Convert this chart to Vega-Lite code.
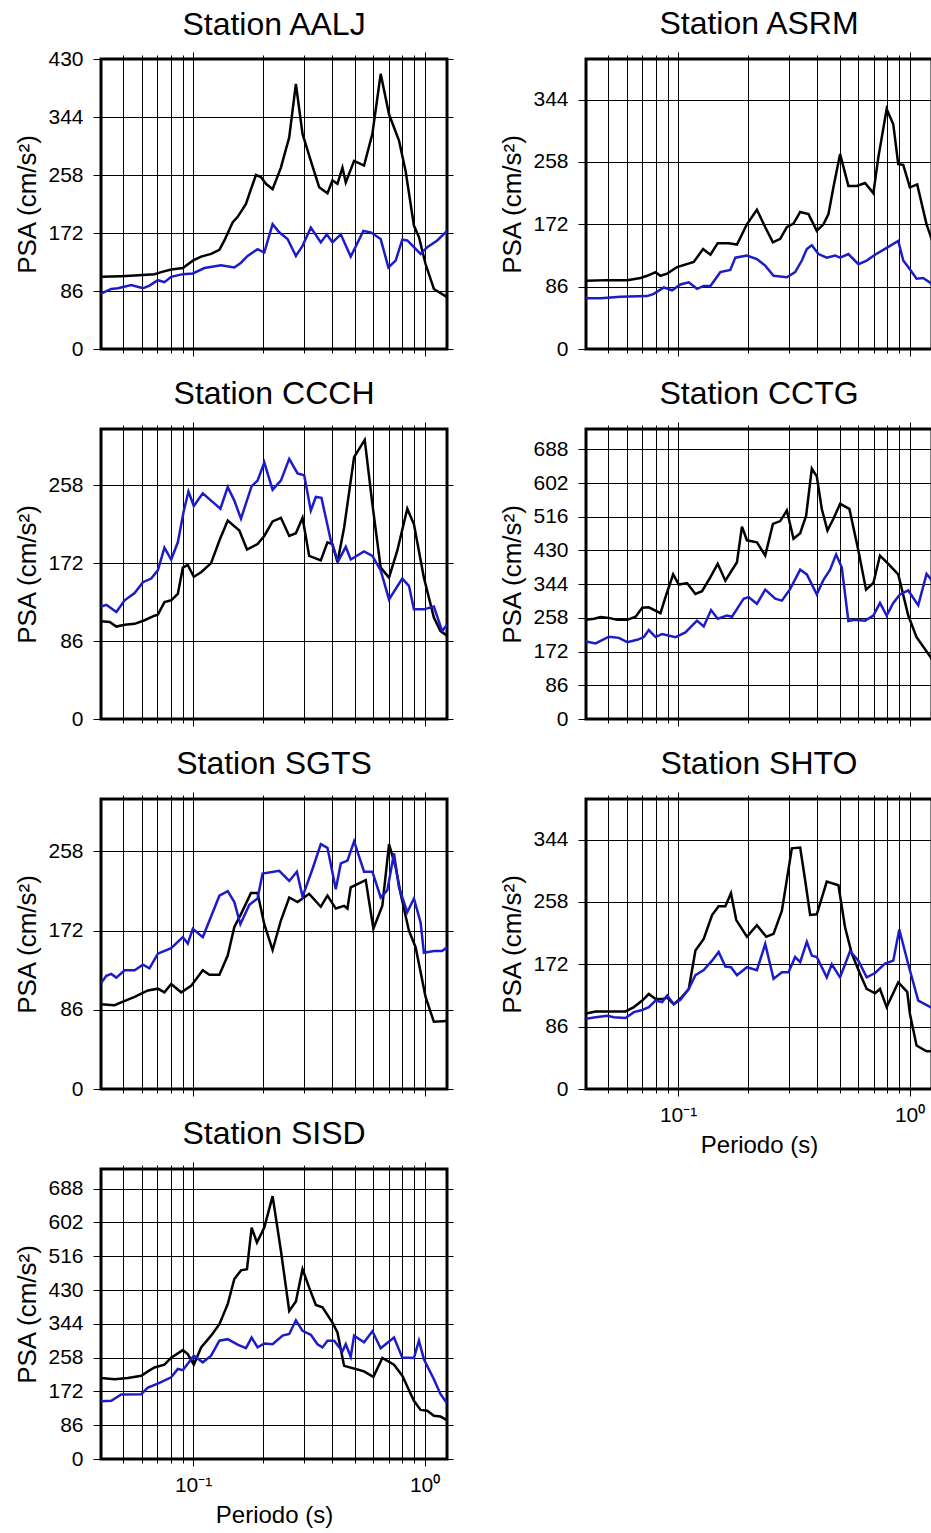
{
"$schema": "https://vega.github.io/schema/vega-lite/v6.json",
"padding": {"left": 12, "top": 6, "right": -8, "bottom": 0},
"columns": 2,
"spacing": {"row": 80, "column": 139},
"bounds": "flush",
"data": {"name": "psa"},
"datasets": {"psa": [
{"st":"AALJ","s":"1","t":0.04,"v":107},{"st":"AALJ","s":"1","t":0.049,"v":108},{"st":"AALJ","s":"1","t":0.0559,"v":109},{"st":"AALJ","s":"1","t":0.0681,"v":111},{"st":"AALJ","s":"1","t":0.0728,"v":114},{"st":"AALJ","s":"1","t":0.0804,"v":118},{"st":"AALJ","s":"1","t":0.0903,"v":120},{"st":"AALJ","s":"1","t":0.0997,"v":131},{"st":"AALJ","s":"1","t":0.1083,"v":137},{"st":"AALJ","s":"1","t":0.1196,"v":141},{"st":"AALJ","s":"1","t":0.1299,"v":147},{"st":"AALJ","s":"1","t":0.1365,"v":161},{"st":"AALJ","s":"1","t":0.1483,"v":188},{"st":"AALJ","s":"1","t":0.1558,"v":196},{"st":"AALJ","s":"1","t":0.1692,"v":215},{"st":"AALJ","s":"1","t":0.1778,"v":237},{"st":"AALJ","s":"1","t":0.1869,"v":258},{"st":"AALJ","s":"1","t":0.1964,"v":255},{"st":"AALJ","s":"1","t":0.2064,"v":245},{"st":"AALJ","s":"1","t":0.2205,"v":237},{"st":"AALJ","s":"1","t":0.2395,"v":269},{"st":"AALJ","s":"1","t":0.2602,"v":314},{"st":"AALJ","s":"1","t":0.278,"v":393},{"st":"AALJ","s":"1","t":0.297,"v":319},{"st":"AALJ","s":"1","t":0.3226,"v":279},{"st":"AALJ","s":"1","t":0.3504,"v":240},{"st":"AALJ","s":"1","t":0.3806,"v":231},{"st":"AALJ","s":"1","t":0.4,"v":250},{"st":"AALJ","s":"1","t":0.4204,"v":245},{"st":"AALJ","s":"1","t":0.4418,"v":269},{"st":"AALJ","s":"1","t":0.4566,"v":247},{"st":"AALJ","s":"1","t":0.496,"v":279},{"st":"AALJ","s":"1","t":0.5477,"v":272},{"st":"AALJ","s":"1","t":0.595,"v":319},{"st":"AALJ","s":"1","t":0.6463,"v":408},{"st":"AALJ","s":"1","t":0.7021,"v":348},{"st":"AALJ","s":"1","t":0.7753,"v":309},{"st":"AALJ","s":"1","t":0.8281,"v":264},{"st":"AALJ","s":"1","t":0.8995,"v":183},{"st":"AALJ","s":"1","t":0.9454,"v":166},{"st":"AALJ","s":"1","t":1.01,"v":126},{"st":"AALJ","s":"1","t":1.097,"v":89},{"st":"AALJ","s":"1","t":1.25,"v":77},
{"st":"AALJ","s":"2","t":0.04,"v":82},{"st":"AALJ","s":"2","t":0.0443,"v":89},{"st":"AALJ","s":"2","t":0.0473,"v":90},{"st":"AALJ","s":"2","t":0.054,"v":95},{"st":"AALJ","s":"2","t":0.0607,"v":90},{"st":"AALJ","s":"2","t":0.0648,"v":94},{"st":"AALJ","s":"2","t":0.0704,"v":102},{"st":"AALJ","s":"2","t":0.0752,"v":99},{"st":"AALJ","s":"2","t":0.0804,"v":107},{"st":"AALJ","s":"2","t":0.0903,"v":111},{"st":"AALJ","s":"2","t":0.0997,"v":112},{"st":"AALJ","s":"2","t":0.1119,"v":120},{"st":"AALJ","s":"2","t":0.132,"v":124},{"st":"AALJ","s":"2","t":0.1507,"v":121},{"st":"AALJ","s":"2","t":0.161,"v":128},{"st":"AALJ","s":"2","t":0.172,"v":138},{"st":"AALJ","s":"2","t":0.1899,"v":148},{"st":"AALJ","s":"2","t":0.203,"v":143},{"st":"AALJ","s":"2","t":0.2205,"v":185},{"st":"AALJ","s":"2","t":0.2356,"v":173},{"st":"AALJ","s":"2","t":0.2559,"v":163},{"st":"AALJ","s":"2","t":0.278,"v":138},{"st":"AALJ","s":"2","t":0.297,"v":153},{"st":"AALJ","s":"2","t":0.3226,"v":180},{"st":"AALJ","s":"2","t":0.3562,"v":158},{"st":"AALJ","s":"2","t":0.3781,"v":170},{"st":"AALJ","s":"2","t":0.4,"v":158},{"st":"AALJ","s":"2","t":0.4345,"v":170},{"st":"AALJ","s":"2","t":0.4797,"v":137},{"st":"AALJ","s":"2","t":0.5441,"v":175},{"st":"AALJ","s":"2","t":0.5852,"v":173},{"st":"AALJ","s":"2","t":0.6463,"v":163},{"st":"AALJ","s":"2","t":0.6975,"v":121},{"st":"AALJ","s":"2","t":0.7499,"v":131},{"st":"AALJ","s":"2","t":0.8012,"v":162},{"st":"AALJ","s":"2","t":0.8421,"v":161},{"st":"AALJ","s":"2","t":0.9612,"v":141},{"st":"AALJ","s":"2","t":1.027,"v":151},{"st":"AALJ","s":"2","t":1.134,"v":161},{"st":"AALJ","s":"2","t":1.25,"v":175},
{"st":"ASRM","s":"1","t":0.04,"v":94},{"st":"ASRM","s":"1","t":0.0494,"v":95},{"st":"ASRM","s":"1","t":0.0603,"v":95},{"st":"ASRM","s":"1","t":0.0688,"v":98},{"st":"ASRM","s":"1","t":0.0735,"v":101},{"st":"ASRM","s":"1","t":0.0799,"v":106},{"st":"ASRM","s":"1","t":0.0839,"v":101},{"st":"ASRM","s":"1","t":0.0897,"v":104},{"st":"ASRM","s":"1","t":0.099,"v":113},{"st":"ASRM","s":"1","t":0.1168,"v":120},{"st":"ASRM","s":"1","t":0.1282,"v":138},{"st":"ASRM","s":"1","t":0.1379,"v":130},{"st":"ASRM","s":"1","t":0.1483,"v":146},{"st":"ASRM","s":"1","t":0.1653,"v":146},{"st":"ASRM","s":"1","t":0.1796,"v":144},{"st":"ASRM","s":"1","t":0.1983,"v":172},{"st":"ASRM","s":"1","t":0.219,"v":192},{"st":"ASRM","s":"1","t":0.2379,"v":168},{"st":"ASRM","s":"1","t":0.2568,"v":147},{"st":"ASRM","s":"1","t":0.2761,"v":152},{"st":"ASRM","s":"1","t":0.295,"v":168},{"st":"ASRM","s":"1","t":0.3152,"v":173},{"st":"ASRM","s":"1","t":0.3368,"v":189},{"st":"ASRM","s":"1","t":0.3658,"v":186},{"st":"ASRM","s":"1","t":0.3973,"v":163},{"st":"ASRM","s":"1","t":0.4246,"v":172},{"st":"ASRM","s":"1","t":0.4462,"v":186},{"st":"ASRM","s":"1","t":0.4688,"v":223},{"st":"ASRM","s":"1","t":0.501,"v":269},{"st":"ASRM","s":"1","t":0.5441,"v":225},{"st":"ASRM","s":"1","t":0.5911,"v":225},{"st":"ASRM","s":"1","t":0.6421,"v":229},{"st":"ASRM","s":"1","t":0.6975,"v":215},{"st":"ASRM","s":"1","t":0.7326,"v":264},{"st":"ASRM","s":"1","t":0.7962,"v":331},{"st":"ASRM","s":"1","t":0.8504,"v":310},{"st":"ASRM","s":"1","t":0.8935,"v":255},{"st":"ASRM","s":"1","t":0.9391,"v":254},{"st":"ASRM","s":"1","t":1.003,"v":223},{"st":"ASRM","s":"1","t":1.079,"v":227},{"st":"ASRM","s":"1","t":1.184,"v":172},{"st":"ASRM","s":"1","t":1.232,"v":156},{"st":"ASRM","s":"1","t":1.25,"v":150},
{"st":"ASRM","s":"2","t":0.04,"v":70},{"st":"ASRM","s":"2","t":0.0463,"v":70},{"st":"ASRM","s":"2","t":0.0564,"v":72},{"st":"ASRM","s":"2","t":0.0735,"v":73},{"st":"ASRM","s":"2","t":0.0785,"v":76},{"st":"ASRM","s":"2","t":0.0868,"v":85},{"st":"ASRM","s":"2","t":0.0942,"v":81},{"st":"ASRM","s":"2","t":0.1023,"v":89},{"st":"ASRM","s":"2","t":0.1112,"v":92},{"st":"ASRM","s":"2","t":0.1207,"v":83},{"st":"ASRM","s":"2","t":0.129,"v":87},{"st":"ASRM","s":"2","t":0.1379,"v":87},{"st":"ASRM","s":"2","t":0.1522,"v":106},{"st":"ASRM","s":"2","t":0.1681,"v":109},{"st":"ASRM","s":"2","t":0.1767,"v":126},{"st":"ASRM","s":"2","t":0.1983,"v":129},{"st":"ASRM","s":"2","t":0.219,"v":124},{"st":"ASRM","s":"2","t":0.2379,"v":115},{"st":"ASRM","s":"2","t":0.2585,"v":101},{"st":"ASRM","s":"2","t":0.295,"v":99},{"st":"ASRM","s":"2","t":0.3204,"v":106},{"st":"ASRM","s":"2","t":0.3424,"v":122},{"st":"ASRM","s":"2","t":0.3598,"v":138},{"st":"ASRM","s":"2","t":0.3781,"v":143},{"st":"ASRM","s":"2","t":0.404,"v":131},{"st":"ASRM","s":"2","t":0.4388,"v":126},{"st":"ASRM","s":"2","t":0.4767,"v":129},{"st":"ASRM","s":"2","t":0.501,"v":126},{"st":"ASRM","s":"2","t":0.5441,"v":131},{"st":"ASRM","s":"2","t":0.6009,"v":117},{"st":"ASRM","s":"2","t":0.6528,"v":122},{"st":"ASRM","s":"2","t":0.7092,"v":130},{"st":"ASRM","s":"2","t":0.783,"v":138},{"st":"ASRM","s":"2","t":0.8935,"v":149},{"st":"ASRM","s":"2","t":0.9391,"v":122},{"st":"ASRM","s":"2","t":1.003,"v":110},{"st":"ASRM","s":"2","t":1.072,"v":97},{"st":"ASRM","s":"2","t":1.145,"v":98},{"st":"ASRM","s":"2","t":1.232,"v":91},{"st":"ASRM","s":"2","t":1.25,"v":89},
{"st":"CCCH","s":"1","t":0.04,"v":108},{"st":"CCCH","s":"1","t":0.0436,"v":107},{"st":"CCCH","s":"1","t":0.0466,"v":102},{"st":"CCCH","s":"1","t":0.0506,"v":104},{"st":"CCCH","s":"1","t":0.0559,"v":105},{"st":"CCCH","s":"1","t":0.0617,"v":109},{"st":"CCCH","s":"1","t":0.0681,"v":114},{"st":"CCCH","s":"1","t":0.0704,"v":115},{"st":"CCCH","s":"1","t":0.0752,"v":129},{"st":"CCCH","s":"1","t":0.0804,"v":131},{"st":"CCCH","s":"1","t":0.0859,"v":138},{"st":"CCCH","s":"1","t":0.0903,"v":167},{"st":"CCCH","s":"1","t":0.0948,"v":170},{"st":"CCCH","s":"1","t":0.1007,"v":157},{"st":"CCCH","s":"1","t":0.1083,"v":162},{"st":"CCCH","s":"1","t":0.1196,"v":172},{"st":"CCCH","s":"1","t":0.1299,"v":197},{"st":"CCCH","s":"1","t":0.1411,"v":219},{"st":"CCCH","s":"1","t":0.1584,"v":208},{"st":"CCCH","s":"1","t":0.1709,"v":187},{"st":"CCCH","s":"1","t":0.1899,"v":193},{"st":"CCCH","s":"1","t":0.203,"v":202},{"st":"CCCH","s":"1","t":0.2205,"v":218},{"st":"CCCH","s":"1","t":0.2395,"v":222},{"st":"CCCH","s":"1","t":0.2602,"v":202},{"st":"CCCH","s":"1","t":0.278,"v":205},{"st":"CCCH","s":"1","t":0.297,"v":222},{"st":"CCCH","s":"1","t":0.3173,"v":180},{"st":"CCCH","s":"1","t":0.3562,"v":175},{"st":"CCCH","s":"1","t":0.3806,"v":195},{"st":"CCCH","s":"1","t":0.4,"v":193},{"st":"CCCH","s":"1","t":0.4204,"v":173},{"st":"CCCH","s":"1","t":0.4491,"v":211},{"st":"CCCH","s":"1","t":0.496,"v":289},{"st":"CCCH","s":"1","t":0.5514,"v":308},{"st":"CCCH","s":"1","t":0.595,"v":237},{"st":"CCCH","s":"1","t":0.6463,"v":167},{"st":"CCCH","s":"1","t":0.7021,"v":156},{"st":"CCCH","s":"1","t":0.7626,"v":186},{"st":"CCCH","s":"1","t":0.8421,"v":232},{"st":"CCCH","s":"1","t":0.8995,"v":215},{"st":"CCCH","s":"1","t":0.9934,"v":156},{"st":"CCCH","s":"1","t":1.097,"v":112},{"st":"CCCH","s":"1","t":1.172,"v":97},{"st":"CCCH","s":"1","t":1.25,"v":92},
{"st":"CCCH","s":"2","t":0.04,"v":124},{"st":"CCCH","s":"2","t":0.0422,"v":126},{"st":"CCCH","s":"2","t":0.0466,"v":118},{"st":"CCCH","s":"2","t":0.0506,"v":131},{"st":"CCCH","s":"2","t":0.0559,"v":139},{"st":"CCCH","s":"2","t":0.0607,"v":151},{"st":"CCCH","s":"2","t":0.0659,"v":155},{"st":"CCCH","s":"2","t":0.0704,"v":164},{"st":"CCCH","s":"2","t":0.0752,"v":189},{"st":"CCCH","s":"2","t":0.0804,"v":176},{"st":"CCCH","s":"2","t":0.0859,"v":195},{"st":"CCCH","s":"2","t":0.0912,"v":230},{"st":"CCCH","s":"2","t":0.0955,"v":251},{"st":"CCCH","s":"2","t":0.1007,"v":235},{"st":"CCCH","s":"2","t":0.1101,"v":249},{"st":"CCCH","s":"2","t":0.1196,"v":241},{"st":"CCCH","s":"2","t":0.1312,"v":232},{"st":"CCCH","s":"2","t":0.1411,"v":256},{"st":"CCCH","s":"2","t":0.1507,"v":241},{"st":"CCCH","s":"2","t":0.161,"v":221},{"st":"CCCH","s":"2","t":0.179,"v":257},{"st":"CCCH","s":"2","t":0.1899,"v":263},{"st":"CCCH","s":"2","t":0.203,"v":283},{"st":"CCCH","s":"2","t":0.2205,"v":253},{"st":"CCCH","s":"2","t":0.2395,"v":263},{"st":"CCCH","s":"2","t":0.2602,"v":287},{"st":"CCCH","s":"2","t":0.2826,"v":271},{"st":"CCCH","s":"2","t":0.3019,"v":269},{"st":"CCCH","s":"2","t":0.3226,"v":230},{"st":"CCCH","s":"2","t":0.339,"v":245},{"st":"CCCH","s":"2","t":0.3586,"v":244},{"st":"CCCH","s":"2","t":0.3934,"v":197},{"st":"CCCH","s":"2","t":0.4231,"v":174},{"st":"CCCH","s":"2","t":0.4566,"v":190},{"st":"CCCH","s":"2","t":0.4797,"v":176},{"st":"CCCH","s":"2","t":0.5477,"v":185},{"st":"CCCH","s":"2","t":0.595,"v":180},{"st":"CCCH","s":"2","t":0.6463,"v":164},{"st":"CCCH","s":"2","t":0.7021,"v":132},{"st":"CCCH","s":"2","t":0.8012,"v":155},{"st":"CCCH","s":"2","t":0.856,"v":147},{"st":"CCCH","s":"2","t":0.8995,"v":121},{"st":"CCCH","s":"2","t":0.9934,"v":121},{"st":"CCCH","s":"2","t":1.097,"v":124},{"st":"CCCH","s":"2","t":1.191,"v":97},{"st":"CCCH","s":"2","t":1.25,"v":104},
{"st":"CCTG","s":"1","t":0.04,"v":253},{"st":"CCTG","s":"1","t":0.0433,"v":256},{"st":"CCTG","s":"1","t":0.0463,"v":260},{"st":"CCTG","s":"1","t":0.0502,"v":258},{"st":"CCTG","s":"1","t":0.0546,"v":253},{"st":"CCTG","s":"1","t":0.0603,"v":253},{"st":"CCTG","s":"1","t":0.0655,"v":261},{"st":"CCTG","s":"1","t":0.07,"v":284},{"st":"CCTG","s":"1","t":0.0747,"v":285},{"st":"CCTG","s":"1","t":0.0839,"v":270},{"st":"CCTG","s":"1","t":0.0891,"v":319},{"st":"CCTG","s":"1","t":0.0952,"v":369},{"st":"CCTG","s":"1","t":0.1007,"v":343},{"st":"CCTG","s":"1","t":0.1093,"v":347},{"st":"CCTG","s":"1","t":0.1188,"v":319},{"st":"CCTG","s":"1","t":0.1269,"v":326},{"st":"CCTG","s":"1","t":0.1379,"v":362},{"st":"CCTG","s":"1","t":0.1483,"v":396},{"st":"CCTG","s":"1","t":0.16,"v":353},{"st":"CCTG","s":"1","t":0.1796,"v":400},{"st":"CCTG","s":"1","t":0.1887,"v":491},{"st":"CCTG","s":"1","t":0.1983,"v":456},{"st":"CCTG","s":"1","t":0.219,"v":451},{"st":"CCTG","s":"1","t":0.2379,"v":417},{"st":"CCTG","s":"1","t":0.2568,"v":498},{"st":"CCTG","s":"1","t":0.2761,"v":505},{"st":"CCTG","s":"1","t":0.295,"v":532},{"st":"CCTG","s":"1","t":0.3152,"v":460},{"st":"CCTG","s":"1","t":0.3368,"v":474},{"st":"CCTG","s":"1","t":0.3574,"v":519},{"st":"CCTG","s":"1","t":0.3781,"v":639},{"st":"CCTG","s":"1","t":0.3973,"v":619},{"st":"CCTG","s":"1","t":0.4176,"v":536},{"st":"CCTG","s":"1","t":0.4418,"v":481},{"st":"CCTG","s":"1","t":0.4688,"v":511},{"st":"CCTG","s":"1","t":0.501,"v":549},{"st":"CCTG","s":"1","t":0.5495,"v":536},{"st":"CCTG","s":"1","t":0.6009,"v":430},{"st":"CCTG","s":"1","t":0.6485,"v":330},{"st":"CCTG","s":"1","t":0.6975,"v":347},{"st":"CCTG","s":"1","t":0.7449,"v":417},{"st":"CCTG","s":"1","t":0.8091,"v":396},{"st":"CCTG","s":"1","t":0.8935,"v":369},{"st":"CCTG","s":"1","t":0.987,"v":264},{"st":"CCTG","s":"1","t":1.072,"v":209},{"st":"CCTG","s":"1","t":1.232,"v":158},{"st":"CCTG","s":"1","t":1.25,"v":152},
{"st":"CCTG","s":"2","t":0.04,"v":198},{"st":"CCTG","s":"2","t":0.044,"v":193},{"st":"CCTG","s":"2","t":0.0502,"v":210},{"st":"CCTG","s":"2","t":0.0555,"v":207},{"st":"CCTG","s":"2","t":0.0603,"v":196},{"st":"CCTG","s":"2","t":0.0666,"v":202},{"st":"CCTG","s":"2","t":0.0711,"v":209},{"st":"CCTG","s":"2","t":0.0747,"v":227},{"st":"CCTG","s":"2","t":0.0799,"v":209},{"st":"CCTG","s":"2","t":0.0853,"v":217},{"st":"CCTG","s":"2","t":0.0974,"v":209},{"st":"CCTG","s":"2","t":0.1075,"v":221},{"st":"CCTG","s":"2","t":0.1207,"v":251},{"st":"CCTG","s":"2","t":0.129,"v":236},{"st":"CCTG","s":"2","t":0.1388,"v":278},{"st":"CCTG","s":"2","t":0.1483,"v":256},{"st":"CCTG","s":"2","t":0.1626,"v":264},{"st":"CCTG","s":"2","t":0.1709,"v":261},{"st":"CCTG","s":"2","t":0.1919,"v":307},{"st":"CCTG","s":"2","t":0.2016,"v":311},{"st":"CCTG","s":"2","t":0.219,"v":294},{"st":"CCTG","s":"2","t":0.2379,"v":330},{"st":"CCTG","s":"2","t":0.2628,"v":307},{"st":"CCTG","s":"2","t":0.2808,"v":302},{"st":"CCTG","s":"2","t":0.305,"v":332},{"st":"CCTG","s":"2","t":0.3368,"v":381},{"st":"CCTG","s":"2","t":0.3598,"v":369},{"st":"CCTG","s":"2","t":0.3973,"v":318},{"st":"CCTG","s":"2","t":0.4246,"v":355},{"st":"CCTG","s":"2","t":0.4536,"v":381},{"st":"CCTG","s":"2","t":0.4815,"v":420},{"st":"CCTG","s":"2","t":0.5093,"v":387},{"st":"CCTG","s":"2","t":0.5441,"v":250},{"st":"CCTG","s":"2","t":0.5813,"v":253},{"st":"CCTG","s":"2","t":0.6421,"v":251},{"st":"CCTG","s":"2","t":0.6975,"v":264},{"st":"CCTG","s":"2","t":0.7449,"v":296},{"st":"CCTG","s":"2","t":0.7962,"v":264},{"st":"CCTG","s":"2","t":0.8504,"v":296},{"st":"CCTG","s":"2","t":0.9085,"v":318},{"st":"CCTG","s":"2","t":0.987,"v":328},{"st":"CCTG","s":"2","t":1.09,"v":290},{"st":"CCTG","s":"2","t":1.184,"v":370},{"st":"CCTG","s":"2","t":1.232,"v":358},{"st":"CCTG","s":"2","t":1.25,"v":350},
{"st":"SGTS","s":"1","t":0.04,"v":92},{"st":"SGTS","s":"1","t":0.0458,"v":91},{"st":"SGTS","s":"1","t":0.0489,"v":94},{"st":"SGTS","s":"1","t":0.0559,"v":100},{"st":"SGTS","s":"1","t":0.0638,"v":107},{"st":"SGTS","s":"1","t":0.0704,"v":109},{"st":"SGTS","s":"1","t":0.0752,"v":105},{"st":"SGTS","s":"1","t":0.0804,"v":114},{"st":"SGTS","s":"1","t":0.0888,"v":105},{"st":"SGTS","s":"1","t":0.098,"v":112},{"st":"SGTS","s":"1","t":0.1101,"v":129},{"st":"SGTS","s":"1","t":0.1176,"v":124},{"st":"SGTS","s":"1","t":0.1299,"v":124},{"st":"SGTS","s":"1","t":0.1411,"v":145},{"st":"SGTS","s":"1","t":0.1507,"v":176},{"st":"SGTS","s":"1","t":0.161,"v":190},{"st":"SGTS","s":"1","t":0.1778,"v":213},{"st":"SGTS","s":"1","t":0.1899,"v":213},{"st":"SGTS","s":"1","t":0.203,"v":179},{"st":"SGTS","s":"1","t":0.2205,"v":151},{"st":"SGTS","s":"1","t":0.2395,"v":183},{"st":"SGTS","s":"1","t":0.2602,"v":208},{"st":"SGTS","s":"1","t":0.2826,"v":203},{"st":"SGTS","s":"1","t":0.3173,"v":212},{"st":"SGTS","s":"1","t":0.3562,"v":198},{"st":"SGTS","s":"1","t":0.3806,"v":210},{"st":"SGTS","s":"1","t":0.4135,"v":196},{"st":"SGTS","s":"1","t":0.4491,"v":199},{"st":"SGTS","s":"1","t":0.4642,"v":196},{"st":"SGTS","s":"1","t":0.4797,"v":219},{"st":"SGTS","s":"1","t":0.5569,"v":227},{"st":"SGTS","s":"1","t":0.6009,"v":174},{"st":"SGTS","s":"1","t":0.657,"v":199},{"st":"SGTS","s":"1","t":0.7021,"v":266},{"st":"SGTS","s":"1","t":0.7499,"v":241},{"st":"SGTS","s":"1","t":0.7882,"v":212},{"st":"SGTS","s":"1","t":0.856,"v":172},{"st":"SGTS","s":"1","t":0.9147,"v":154},{"st":"SGTS","s":"1","t":1.01,"v":100},{"st":"SGTS","s":"1","t":1.097,"v":73},{"st":"SGTS","s":"1","t":1.25,"v":74},
{"st":"SGTS","s":"2","t":0.04,"v":115},{"st":"SGTS","s":"2","t":0.0422,"v":123},{"st":"SGTS","s":"2","t":0.0443,"v":125},{"st":"SGTS","s":"2","t":0.0466,"v":121},{"st":"SGTS","s":"2","t":0.0506,"v":129},{"st":"SGTS","s":"2","t":0.0559,"v":129},{"st":"SGTS","s":"2","t":0.0607,"v":135},{"st":"SGTS","s":"2","t":0.0648,"v":131},{"st":"SGTS","s":"2","t":0.0704,"v":147},{"st":"SGTS","s":"2","t":0.0804,"v":153},{"st":"SGTS","s":"2","t":0.0903,"v":165},{"st":"SGTS","s":"2","t":0.0948,"v":158},{"st":"SGTS","s":"2","t":0.0997,"v":174},{"st":"SGTS","s":"2","t":0.1101,"v":165},{"st":"SGTS","s":"2","t":0.1299,"v":210},{"st":"SGTS","s":"2","t":0.1411,"v":215},{"st":"SGTS","s":"2","t":0.1507,"v":203},{"st":"SGTS","s":"2","t":0.16,"v":179},{"st":"SGTS","s":"2","t":0.1749,"v":200},{"st":"SGTS","s":"2","t":0.1899,"v":207},{"st":"SGTS","s":"2","t":0.1996,"v":234},{"st":"SGTS","s":"2","t":0.2356,"v":237},{"st":"SGTS","s":"2","t":0.2602,"v":226},{"st":"SGTS","s":"2","t":0.2808,"v":236},{"st":"SGTS","s":"2","t":0.297,"v":209},{"st":"SGTS","s":"2","t":0.328,"v":239},{"st":"SGTS","s":"2","t":0.3562,"v":266},{"st":"SGTS","s":"2","t":0.3806,"v":262},{"st":"SGTS","s":"2","t":0.4135,"v":217},{"st":"SGTS","s":"2","t":0.4345,"v":245},{"st":"SGTS","s":"2","t":0.4642,"v":248},{"st":"SGTS","s":"2","t":0.496,"v":269},{"st":"SGTS","s":"2","t":0.5477,"v":236},{"st":"SGTS","s":"2","t":0.595,"v":236},{"st":"SGTS","s":"2","t":0.6463,"v":208},{"st":"SGTS","s":"2","t":0.6905,"v":216},{"st":"SGTS","s":"2","t":0.7378,"v":256},{"st":"SGTS","s":"2","t":0.7753,"v":219},{"st":"SGTS","s":"2","t":0.8421,"v":192},{"st":"SGTS","s":"2","t":0.8995,"v":207},{"st":"SGTS","s":"2","t":0.9612,"v":181},{"st":"SGTS","s":"2","t":0.9934,"v":148},{"st":"SGTS","s":"2","t":1.097,"v":150},{"st":"SGTS","s":"2","t":1.191,"v":150},{"st":"SGTS","s":"2","t":1.25,"v":154},
{"st":"SHTO","s":"1","t":0.04,"v":104},{"st":"SHTO","s":"1","t":0.044,"v":107},{"st":"SHTO","s":"1","t":0.0494,"v":107},{"st":"SHTO","s":"1","t":0.0593,"v":107},{"st":"SHTO","s":"1","t":0.0644,"v":113},{"st":"SHTO","s":"1","t":0.07,"v":122},{"st":"SHTO","s":"1","t":0.0747,"v":131},{"st":"SHTO","s":"1","t":0.0799,"v":124},{"st":"SHTO","s":"1","t":0.0853,"v":124},{"st":"SHTO","s":"1","t":0.0897,"v":126},{"st":"SHTO","s":"1","t":0.0958,"v":117},{"st":"SHTO","s":"1","t":0.104,"v":127},{"st":"SHTO","s":"1","t":0.1112,"v":138},{"st":"SHTO","s":"1","t":0.1188,"v":191},{"st":"SHTO","s":"1","t":0.129,"v":207},{"st":"SHTO","s":"1","t":0.1402,"v":240},{"st":"SHTO","s":"1","t":0.1497,"v":252},{"st":"SHTO","s":"1","t":0.16,"v":252},{"st":"SHTO","s":"1","t":0.1692,"v":270},{"st":"SHTO","s":"1","t":0.1784,"v":233},{"st":"SHTO","s":"1","t":0.1983,"v":210},{"st":"SHTO","s":"1","t":0.219,"v":226},{"st":"SHTO","s":"1","t":0.2403,"v":210},{"st":"SHTO","s":"1","t":0.2585,"v":214},{"st":"SHTO","s":"1","t":0.2808,"v":246},{"st":"SHTO","s":"1","t":0.31,"v":332},{"st":"SHTO","s":"1","t":0.3368,"v":333},{"st":"SHTO","s":"1","t":0.3539,"v":288},{"st":"SHTO","s":"1","t":0.3719,"v":240},{"st":"SHTO","s":"1","t":0.3973,"v":241},{"st":"SHTO","s":"1","t":0.4388,"v":286},{"st":"SHTO","s":"1","t":0.4928,"v":281},{"st":"SHTO","s":"1","t":0.5264,"v":223},{"st":"SHTO","s":"1","t":0.5623,"v":187},{"st":"SHTO","s":"1","t":0.6108,"v":159},{"st":"SHTO","s":"1","t":0.6528,"v":138},{"st":"SHTO","s":"1","t":0.7092,"v":132},{"st":"SHTO","s":"1","t":0.7449,"v":138},{"st":"SHTO","s":"1","t":0.7962,"v":113},{"st":"SHTO","s":"1","t":0.8935,"v":147},{"st":"SHTO","s":"1","t":0.977,"v":134},{"st":"SHTO","s":"1","t":1.003,"v":104},{"st":"SHTO","s":"1","t":1.072,"v":60},{"st":"SHTO","s":"1","t":1.184,"v":52},{"st":"SHTO","s":"1","t":1.25,"v":52},
{"st":"SHTO","s":"2","t":0.04,"v":97},{"st":"SHTO","s":"2","t":0.044,"v":99},{"st":"SHTO","s":"2","t":0.0494,"v":101},{"st":"SHTO","s":"2","t":0.0528,"v":99},{"st":"SHTO","s":"2","t":0.0593,"v":98},{"st":"SHTO","s":"2","t":0.0644,"v":106},{"st":"SHTO","s":"2","t":0.07,"v":109},{"st":"SHTO","s":"2","t":0.0747,"v":113},{"st":"SHTO","s":"2","t":0.0799,"v":122},{"st":"SHTO","s":"2","t":0.0853,"v":120},{"st":"SHTO","s":"2","t":0.0897,"v":129},{"st":"SHTO","s":"2","t":0.0958,"v":117},{"st":"SHTO","s":"2","t":0.1023,"v":123},{"st":"SHTO","s":"2","t":0.1112,"v":138},{"st":"SHTO","s":"2","t":0.1188,"v":157},{"st":"SHTO","s":"2","t":0.129,"v":164},{"st":"SHTO","s":"2","t":0.1402,"v":177},{"st":"SHTO","s":"2","t":0.1497,"v":189},{"st":"SHTO","s":"2","t":0.16,"v":169},{"st":"SHTO","s":"2","t":0.1692,"v":168},{"st":"SHTO","s":"2","t":0.1796,"v":157},{"st":"SHTO","s":"2","t":0.1983,"v":168},{"st":"SHTO","s":"2","t":0.219,"v":164},{"st":"SHTO","s":"2","t":0.2379,"v":200},{"st":"SHTO","s":"2","t":0.2585,"v":152},{"st":"SHTO","s":"2","t":0.2808,"v":161},{"st":"SHTO","s":"2","t":0.2999,"v":161},{"st":"SHTO","s":"2","t":0.3204,"v":182},{"st":"SHTO","s":"2","t":0.3368,"v":175},{"st":"SHTO","s":"2","t":0.3598,"v":203},{"st":"SHTO","s":"2","t":0.3781,"v":184},{"st":"SHTO","s":"2","t":0.3973,"v":182},{"st":"SHTO","s":"2","t":0.4388,"v":154},{"st":"SHTO","s":"2","t":0.4611,"v":172},{"st":"SHTO","s":"2","t":0.501,"v":154},{"st":"SHTO","s":"2","t":0.5532,"v":190},{"st":"SHTO","s":"2","t":0.6009,"v":177},{"st":"SHTO","s":"2","t":0.6528,"v":154},{"st":"SHTO","s":"2","t":0.7092,"v":160},{"st":"SHTO","s":"2","t":0.783,"v":173},{"st":"SHTO","s":"2","t":0.8504,"v":177},{"st":"SHTO","s":"2","t":0.9027,"v":220},{"st":"SHTO","s":"2","t":0.987,"v":172},{"st":"SHTO","s":"2","t":1.09,"v":122},{"st":"SHTO","s":"2","t":1.232,"v":113},{"st":"SHTO","s":"2","t":1.25,"v":112},
{"st":"SISD","s":"1","t":0.04,"v":206},{"st":"SISD","s":"1","t":0.0458,"v":203},{"st":"SISD","s":"1","t":0.0523,"v":206},{"st":"SISD","s":"1","t":0.0597,"v":212},{"st":"SISD","s":"1","t":0.0638,"v":223},{"st":"SISD","s":"1","t":0.0681,"v":233},{"st":"SISD","s":"1","t":0.0752,"v":240},{"st":"SISD","s":"1","t":0.0804,"v":258},{"st":"SISD","s":"1","t":0.0903,"v":277},{"st":"SISD","s":"1","t":0.0948,"v":267},{"st":"SISD","s":"1","t":0.1007,"v":240},{"st":"SISD","s":"1","t":0.1083,"v":284},{"st":"SISD","s":"1","t":0.1196,"v":314},{"st":"SISD","s":"1","t":0.1299,"v":343},{"st":"SISD","s":"1","t":0.1411,"v":394},{"st":"SISD","s":"1","t":0.1507,"v":458},{"st":"SISD","s":"1","t":0.161,"v":480},{"st":"SISD","s":"1","t":0.1709,"v":483},{"st":"SISD","s":"1","t":0.179,"v":589},{"st":"SISD","s":"1","t":0.1887,"v":551},{"st":"SISD","s":"1","t":0.203,"v":589},{"st":"SISD","s":"1","t":0.2205,"v":669},{"st":"SISD","s":"1","t":0.2395,"v":530},{"st":"SISD","s":"1","t":0.2602,"v":377},{"st":"SISD","s":"1","t":0.278,"v":401},{"st":"SISD","s":"1","t":0.297,"v":483},{"st":"SISD","s":"1","t":0.3173,"v":436},{"st":"SISD","s":"1","t":0.339,"v":392},{"st":"SISD","s":"1","t":0.3622,"v":386},{"st":"SISD","s":"1","t":0.4,"v":347},{"st":"SISD","s":"1","t":0.4204,"v":322},{"st":"SISD","s":"1","t":0.4491,"v":237},{"st":"SISD","s":"1","t":0.5043,"v":229},{"st":"SISD","s":"1","t":0.5477,"v":223},{"st":"SISD","s":"1","t":0.6009,"v":209},{"st":"SISD","s":"1","t":0.657,"v":257},{"st":"SISD","s":"1","t":0.7378,"v":240},{"st":"SISD","s":"1","t":0.8012,"v":212},{"st":"SISD","s":"1","t":0.8995,"v":148},{"st":"SISD","s":"1","t":0.9612,"v":125},{"st":"SISD","s":"1","t":1.027,"v":123},{"st":"SISD","s":"1","t":1.097,"v":110},{"st":"SISD","s":"1","t":1.172,"v":108},{"st":"SISD","s":"1","t":1.25,"v":99},
{"st":"SISD","s":"2","t":0.04,"v":147},{"st":"SISD","s":"2","t":0.0443,"v":148},{"st":"SISD","s":"2","t":0.0489,"v":164},{"st":"SISD","s":"2","t":0.0597,"v":165},{"st":"SISD","s":"2","t":0.0638,"v":182},{"st":"SISD","s":"2","t":0.0704,"v":192},{"st":"SISD","s":"2","t":0.0804,"v":208},{"st":"SISD","s":"2","t":0.0859,"v":229},{"st":"SISD","s":"2","t":0.0903,"v":226},{"st":"SISD","s":"2","t":0.1007,"v":263},{"st":"SISD","s":"2","t":0.1101,"v":246},{"st":"SISD","s":"2","t":0.1196,"v":263},{"st":"SISD","s":"2","t":0.1299,"v":301},{"st":"SISD","s":"2","t":0.1411,"v":305},{"st":"SISD","s":"2","t":0.1558,"v":291},{"st":"SISD","s":"2","t":0.1692,"v":282},{"st":"SISD","s":"2","t":0.179,"v":309},{"st":"SISD","s":"2","t":0.1899,"v":284},{"st":"SISD","s":"2","t":0.203,"v":294},{"st":"SISD","s":"2","t":0.2205,"v":292},{"st":"SISD","s":"2","t":0.2435,"v":314},{"st":"SISD","s":"2","t":0.2602,"v":318},{"st":"SISD","s":"2","t":0.278,"v":353},{"st":"SISD","s":"2","t":0.297,"v":326},{"st":"SISD","s":"2","t":0.3226,"v":316},{"st":"SISD","s":"2","t":0.3447,"v":292},{"st":"SISD","s":"2","t":0.3622,"v":284},{"st":"SISD","s":"2","t":0.3806,"v":301},{"st":"SISD","s":"2","t":0.4067,"v":301},{"st":"SISD","s":"2","t":0.4418,"v":274},{"st":"SISD","s":"2","t":0.4566,"v":292},{"st":"SISD","s":"2","t":0.4797,"v":260},{"st":"SISD","s":"2","t":0.496,"v":314},{"st":"SISD","s":"2","t":0.5477,"v":297},{"st":"SISD","s":"2","t":0.595,"v":325},{"st":"SISD","s":"2","t":0.6463,"v":282},{"st":"SISD","s":"2","t":0.7378,"v":309},{"st":"SISD","s":"2","t":0.8012,"v":258},{"st":"SISD","s":"2","t":0.8995,"v":257},{"st":"SISD","s":"2","t":0.9454,"v":301},{"st":"SISD","s":"2","t":0.9934,"v":254},{"st":"SISD","s":"2","t":1.097,"v":203},{"st":"SISD","s":"2","t":1.172,"v":165},{"st":"SISD","s":"2","t":1.25,"v":142}
]},
"concat": [
{"title": {"text": "Station AALJ", "dy": 5}, "width": 346, "height": 290, "transform": [{"filter": "datum.st == 'AALJ'"}],
 "layer": [
  {"mark": {"type": "line", "strokeWidth": 2.5, "clip": true},
   "encoding": {
    "x": {"field": "t", "type": "quantitative", "scale": {"type": "log", "domain": [0.04, 1.25], "nice": false}, "axis": {"orient": "bottom", "values": [0.05,0.06,0.07,0.08,0.09,0.1,0.2,0.3,0.4,0.5,0.6,0.7,0.8,0.9,1], "grid": true, "labels": false, "title": null, "tickSize": {"condition": {"test": "datum.value == 0.1 || datum.value == 1", "value": 7}, "value": 4}}},
    "y": {"field": "v", "type": "quantitative", "scale": {"domain": [0, 430], "nice": false}, "axis": {"orient": "left", "values": [0,86,172,258,344,430,516,602,688], "grid": true, "title": "PSA (cm/s²)"}},
    "color": {"field": "s", "type": "nominal", "scale": {"domain": ["1","2"], "range": ["#000000","#1c1cc8"]}, "legend": null}}},
  {"mark": {"type": "line", "opacity": 0},
   "encoding": {
    "x": {"field": "t", "type": "quantitative", "axis": {"orient": "top", "values": [0.05,0.06,0.07,0.08,0.09,0.1,0.2,0.3,0.4,0.5,0.6,0.7,0.8,0.9,1], "grid": false, "labels": false, "title": null, "tickSize": {"condition": {"test": "datum.value == 0.1 || datum.value == 1", "value": 7}, "value": 4}}},
    "y": {"field": "v", "type": "quantitative", "axis": {"orient": "right", "values": [0,86,172,258,344,430,516,602,688], "grid": false, "labels": false, "title": null}}}}
 ],
 "resolve": {"axis": {"x": "independent", "y": "independent"}}},
{"title": "Station ASRM", "width": 346, "height": 290, "transform": [{"filter": "datum.st == 'ASRM'"}],
 "layer": [
  {"mark": {"type": "line", "strokeWidth": 2.5, "clip": true},
   "encoding": {
    "x": {"field": "t", "type": "quantitative", "scale": {"type": "log", "domain": [0.04, 1.25], "nice": false}, "axis": {"orient": "bottom", "values": [0.05,0.06,0.07,0.08,0.09,0.1,0.2,0.3,0.4,0.5,0.6,0.7,0.8,0.9,1], "grid": true, "labels": false, "title": null, "tickSize": {"condition": {"test": "datum.value == 0.1 || datum.value == 1", "value": 7}, "value": 4}}},
    "y": {"field": "v", "type": "quantitative", "scale": {"domain": [0, 400], "nice": false}, "axis": {"orient": "left", "values": [0,86,172,258,344,430,516,602,688], "grid": true, "title": "PSA (cm/s²)"}},
    "color": {"field": "s", "type": "nominal", "scale": {"domain": ["1","2"], "range": ["#000000","#1c1cc8"]}, "legend": null}}},
  {"mark": {"type": "line", "opacity": 0},
   "encoding": {
    "x": {"field": "t", "type": "quantitative", "axis": {"orient": "top", "values": [0.05,0.06,0.07,0.08,0.09,0.1,0.2,0.3,0.4,0.5,0.6,0.7,0.8,0.9,1], "grid": false, "labels": false, "title": null, "tickSize": {"condition": {"test": "datum.value == 0.1 || datum.value == 1", "value": 7}, "value": 4}}},
    "y": {"field": "v", "type": "quantitative", "axis": {"orient": "right", "values": [0,86,172,258,344,430,516,602,688], "grid": false, "labels": false, "title": null}}}}
 ],
 "resolve": {"axis": {"x": "independent", "y": "independent"}}},
{"title": "Station CCCH", "width": 346, "height": 290, "transform": [{"filter": "datum.st == 'CCCH'"}],
 "layer": [
  {"mark": {"type": "line", "strokeWidth": 2.5, "clip": true},
   "encoding": {
    "x": {"field": "t", "type": "quantitative", "scale": {"type": "log", "domain": [0.04, 1.25], "nice": false}, "axis": {"orient": "bottom", "values": [0.05,0.06,0.07,0.08,0.09,0.1,0.2,0.3,0.4,0.5,0.6,0.7,0.8,0.9,1], "grid": true, "labels": false, "title": null, "tickSize": {"condition": {"test": "datum.value == 0.1 || datum.value == 1", "value": 7}, "value": 4}}},
    "y": {"field": "v", "type": "quantitative", "scale": {"domain": [0, 320], "nice": false}, "axis": {"orient": "left", "values": [0,86,172,258,344,430,516,602,688], "grid": true, "title": "PSA (cm/s²)"}},
    "color": {"field": "s", "type": "nominal", "scale": {"domain": ["1","2"], "range": ["#000000","#1c1cc8"]}, "legend": null}}},
  {"mark": {"type": "line", "opacity": 0},
   "encoding": {
    "x": {"field": "t", "type": "quantitative", "axis": {"orient": "top", "values": [0.05,0.06,0.07,0.08,0.09,0.1,0.2,0.3,0.4,0.5,0.6,0.7,0.8,0.9,1], "grid": false, "labels": false, "title": null, "tickSize": {"condition": {"test": "datum.value == 0.1 || datum.value == 1", "value": 7}, "value": 4}}},
    "y": {"field": "v", "type": "quantitative", "axis": {"orient": "right", "values": [0,86,172,258,344,430,516,602,688], "grid": false, "labels": false, "title": null}}}}
 ],
 "resolve": {"axis": {"x": "independent", "y": "independent"}}},
{"title": "Station CCTG", "width": 346, "height": 290, "transform": [{"filter": "datum.st == 'CCTG'"}],
 "layer": [
  {"mark": {"type": "line", "strokeWidth": 2.5, "clip": true},
   "encoding": {
    "x": {"field": "t", "type": "quantitative", "scale": {"type": "log", "domain": [0.04, 1.25], "nice": false}, "axis": {"orient": "bottom", "values": [0.05,0.06,0.07,0.08,0.09,0.1,0.2,0.3,0.4,0.5,0.6,0.7,0.8,0.9,1], "grid": true, "labels": false, "title": null, "tickSize": {"condition": {"test": "datum.value == 0.1 || datum.value == 1", "value": 7}, "value": 4}}},
    "y": {"field": "v", "type": "quantitative", "scale": {"domain": [0, 740], "nice": false}, "axis": {"orient": "left", "values": [0,86,172,258,344,430,516,602,688], "grid": true, "title": "PSA (cm/s²)"}},
    "color": {"field": "s", "type": "nominal", "scale": {"domain": ["1","2"], "range": ["#000000","#1c1cc8"]}, "legend": null}}},
  {"mark": {"type": "line", "opacity": 0},
   "encoding": {
    "x": {"field": "t", "type": "quantitative", "axis": {"orient": "top", "values": [0.05,0.06,0.07,0.08,0.09,0.1,0.2,0.3,0.4,0.5,0.6,0.7,0.8,0.9,1], "grid": false, "labels": false, "title": null, "tickSize": {"condition": {"test": "datum.value == 0.1 || datum.value == 1", "value": 7}, "value": 4}}},
    "y": {"field": "v", "type": "quantitative", "axis": {"orient": "right", "values": [0,86,172,258,344,430,516,602,688], "grid": false, "labels": false, "title": null}}}}
 ],
 "resolve": {"axis": {"x": "independent", "y": "independent"}}},
{"title": "Station SGTS", "width": 346, "height": 290, "transform": [{"filter": "datum.st == 'SGTS'"}],
 "layer": [
  {"mark": {"type": "line", "strokeWidth": 2.5, "clip": true},
   "encoding": {
    "x": {"field": "t", "type": "quantitative", "scale": {"type": "log", "domain": [0.04, 1.25], "nice": false}, "axis": {"orient": "bottom", "values": [0.05,0.06,0.07,0.08,0.09,0.1,0.2,0.3,0.4,0.5,0.6,0.7,0.8,0.9,1], "grid": true, "labels": false, "title": null, "tickSize": {"condition": {"test": "datum.value == 0.1 || datum.value == 1", "value": 7}, "value": 4}}},
    "y": {"field": "v", "type": "quantitative", "scale": {"domain": [0, 315], "nice": false}, "axis": {"orient": "left", "values": [0,86,172,258,344,430,516,602,688], "grid": true, "title": "PSA (cm/s²)"}},
    "color": {"field": "s", "type": "nominal", "scale": {"domain": ["1","2"], "range": ["#000000","#1c1cc8"]}, "legend": null}}},
  {"mark": {"type": "line", "opacity": 0},
   "encoding": {
    "x": {"field": "t", "type": "quantitative", "axis": {"orient": "top", "values": [0.05,0.06,0.07,0.08,0.09,0.1,0.2,0.3,0.4,0.5,0.6,0.7,0.8,0.9,1], "grid": false, "labels": false, "title": null, "tickSize": {"condition": {"test": "datum.value == 0.1 || datum.value == 1", "value": 7}, "value": 4}}},
    "y": {"field": "v", "type": "quantitative", "axis": {"orient": "right", "values": [0,86,172,258,344,430,516,602,688], "grid": false, "labels": false, "title": null}}}}
 ],
 "resolve": {"axis": {"x": "independent", "y": "independent"}}},
{"title": "Station SHTO", "width": 346, "height": 290, "transform": [{"filter": "datum.st == 'SHTO'"}],
 "layer": [
  {"mark": {"type": "line", "strokeWidth": 2.5, "clip": true},
   "encoding": {
    "x": {"field": "t", "type": "quantitative", "scale": {"type": "log", "domain": [0.04, 1.25], "nice": false}, "axis": {"orient": "bottom", "values": [0.05,0.06,0.07,0.08,0.09,0.1,0.2,0.3,0.4,0.5,0.6,0.7,0.8,0.9,1], "grid": true, "labels": true, "labelExpr": "datum.value == 0.1 ? '10⁻¹' : (datum.value == 1 ? '10⁰' : '')", "title": "Periodo (s)", "tickSize": {"condition": {"test": "datum.value == 0.1 || datum.value == 1", "value": 7}, "value": 4}}},
    "y": {"field": "v", "type": "quantitative", "scale": {"domain": [0, 400], "nice": false}, "axis": {"orient": "left", "values": [0,86,172,258,344,430,516,602,688], "grid": true, "title": "PSA (cm/s²)"}},
    "color": {"field": "s", "type": "nominal", "scale": {"domain": ["1","2"], "range": ["#000000","#1c1cc8"]}, "legend": null}}},
  {"mark": {"type": "line", "opacity": 0},
   "encoding": {
    "x": {"field": "t", "type": "quantitative", "axis": {"orient": "top", "values": [0.05,0.06,0.07,0.08,0.09,0.1,0.2,0.3,0.4,0.5,0.6,0.7,0.8,0.9,1], "grid": false, "labels": false, "title": null, "tickSize": {"condition": {"test": "datum.value == 0.1 || datum.value == 1", "value": 7}, "value": 4}}},
    "y": {"field": "v", "type": "quantitative", "axis": {"orient": "right", "values": [0,86,172,258,344,430,516,602,688], "grid": false, "labels": false, "title": null}}}}
 ],
 "resolve": {"axis": {"x": "independent", "y": "independent"}}},
{"title": "Station SISD", "width": 346, "height": 290, "transform": [{"filter": "datum.st == 'SISD'"}],
 "layer": [
  {"mark": {"type": "line", "strokeWidth": 2.5, "clip": true},
   "encoding": {
    "x": {"field": "t", "type": "quantitative", "scale": {"type": "log", "domain": [0.04, 1.25], "nice": false}, "axis": {"orient": "bottom", "values": [0.05,0.06,0.07,0.08,0.09,0.1,0.2,0.3,0.4,0.5,0.6,0.7,0.8,0.9,1], "grid": true, "labels": true, "labelExpr": "datum.value == 0.1 ? '10⁻¹' : (datum.value == 1 ? '10⁰' : '')", "title": "Periodo (s)", "tickSize": {"condition": {"test": "datum.value == 0.1 || datum.value == 1", "value": 7}, "value": 4}}},
    "y": {"field": "v", "type": "quantitative", "scale": {"domain": [0, 738], "nice": false}, "axis": {"orient": "left", "values": [0,86,172,258,344,430,516,602,688], "grid": true, "title": "PSA (cm/s²)"}},
    "color": {"field": "s", "type": "nominal", "scale": {"domain": ["1","2"], "range": ["#000000","#1c1cc8"]}, "legend": null}}},
  {"mark": {"type": "line", "opacity": 0},
   "encoding": {
    "x": {"field": "t", "type": "quantitative", "axis": {"orient": "top", "values": [0.05,0.06,0.07,0.08,0.09,0.1,0.2,0.3,0.4,0.5,0.6,0.7,0.8,0.9,1], "grid": false, "labels": false, "title": null, "tickSize": {"condition": {"test": "datum.value == 0.1 || datum.value == 1", "value": 7}, "value": 4}}},
    "y": {"field": "v", "type": "quantitative", "axis": {"orient": "right", "values": [0,86,172,258,344,430,516,602,688], "grid": false, "labels": false, "title": null}}}}
 ],
 "resolve": {"axis": {"x": "independent", "y": "independent"}}}
],
"config": {
 "font": "Liberation Sans",
 "background": "#ffffff",
 "view": {"stroke": "#000000", "strokeWidth": 3},
 "title": {"fontSize": 32, "fontWeight": "normal", "color": "#000000", "anchor": "middle", "offset": 11},
 "axis": {"domain": false, "gridColor": "#000000", "gridOpacity": 1, "gridWidth": 1, "tickColor": "#000000", "tickWidth": 1, "tickOpacity": 1, "labelColor": "#000000", "titleColor": "#000000", "labelFontSize": 21, "titleFontWeight": "normal", "labelOverlap": false, "labelFlush": false},
 "axisLeft": {"tickSize": 8, "labelPadding": 10, "titleFontSize": 26, "titleX": -74, "titleY": 145, "titleAngle": -90, "titleAlign": "center", "titleBaseline": "middle"},
 "axisRight": {"tickSize": 6},
 "axisBottom": {"labelPadding": 8, "titleFontSize": 24, "titlePadding": 8}
}
}
